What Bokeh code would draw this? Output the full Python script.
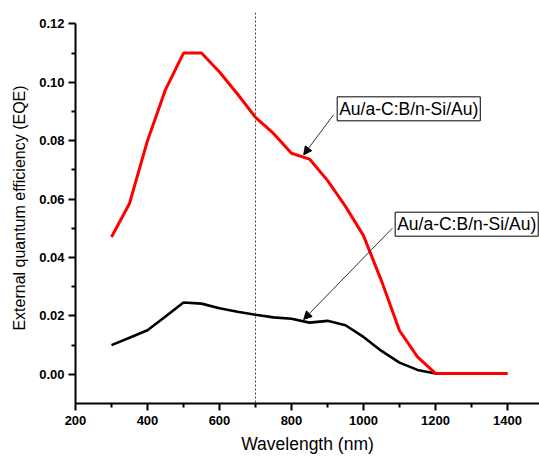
from bokeh.plotting import figure
from bokeh.models import (Span, Label, Arrow, NormalHead, FixedTicker,
                          PrintfTickFormatter, Range1d)
from bokeh.embed import file_html
from bokeh.resources import INLINE

wavelength = [300, 350, 400, 450, 500, 550, 600, 650, 700, 750, 800, 850, 900,
              950, 1000, 1050, 1100, 1150, 1200, 1250, 1300, 1350, 1400]
eqe_red = [0.047, 0.0585, 0.080, 0.0975, 0.110, 0.110, 0.1035, 0.096, 0.088,
           0.0825, 0.0757, 0.0737, 0.0664, 0.0575, 0.0475, 0.032, 0.015, 0.006,
           0.0003, 0.0003, 0.0003, 0.0003, 0.0003]
eqe_black = [0.0100, 0.0125, 0.0151, 0.0198, 0.0246, 0.0242, 0.0226, 0.0214,
             0.0204, 0.0195, 0.0190, 0.0177, 0.0183, 0.0168, 0.0128, 0.0080,
             0.0040, 0.0015, 0.0003, 0.0003, 0.0003, 0.0003, 0.0003]
x_ticks = [200, 400, 600, 800, 1000, 1200, 1400]
x_minor = [300, 500, 700, 900, 1100, 1300, 1500]
y_ticks = [0.00, 0.02, 0.04, 0.06, 0.08, 0.10, 0.12]
y_minor = [0.01, 0.03, 0.05, 0.07, 0.09, 0.11]
label_text = "Au/a-C:B/n-Si/Au)"
marker_x = 700

FONT = "Liberation Sans"

p = figure(width=539, height=457, output_backend="svg", toolbar_location=None,
           x_range=Range1d(200, 1489), y_range=Range1d(-0.01, 0.1239),
           min_border_left=75, min_border_right=0, min_border_top=12,
           min_border_bottom=54)
p.outline_line_color = None
p.xgrid.visible = False
p.ygrid.visible = False
p.background_fill_color = "white"
p.border_fill_color = "white"

p.line(wavelength, eqe_black, line_color="black", line_width=2.6)
p.line(wavelength, eqe_red, line_color="#ff0000", line_width=3)

p.add_layout(Span(location=marker_x, dimension="height", line_color="#444444",
                  line_dash="2 2", line_width=1))

for ax in (p.xaxis[0], p.yaxis[0]):
    ax.axis_line_width = 2
    ax.axis_line_color = "black"
    ax.major_tick_line_width = 2
    ax.minor_tick_line_width = 2
    ax.major_tick_in = 0
    ax.major_tick_out = 7
    ax.minor_tick_in = 0
    ax.minor_tick_out = 4
    ax.major_label_text_font = FONT
    ax.major_label_text_font_style = "bold"
    ax.major_label_text_font_size = "13px"
    ax.major_label_text_color = "black"
    ax.axis_label_text_font = FONT
    ax.axis_label_text_font_style = "normal"
    ax.axis_label_text_font_size = "17.5px"
    ax.axis_label_text_color = "black"

p.xaxis.ticker = FixedTicker(ticks=x_ticks, minor_ticks=x_minor)
p.yaxis.ticker = FixedTicker(ticks=y_ticks, minor_ticks=y_minor)
p.yaxis.formatter = PrintfTickFormatter(format="%.2f")
p.yaxis.bounds = (-0.01, 0.12)
p.xaxis.major_label_standoff = 5
p.yaxis.major_label_standoff = 4
p.xaxis.axis_label = "Wavelength (nm)"
p.yaxis.axis_label = "External quantum efficiency (EQE)"
p.yaxis.axis_label_text_font_size = "16px"
p.xaxis.axis_label_standoff = 6
p.yaxis.axis_label_standoff = 8

for (lx, ly) in [(927, 0.0868), (1088, 0.0473)]:
    p.add_layout(Label(x=lx, y=ly, text=label_text, text_font=FONT,
                       text_font_size="17.5px", text_color="black",
                       text_align="left", text_baseline="bottom",
                       border_line_color="black", border_line_width=1,
                       background_fill_color="white", padding=2))

for (x0, y0, x1, y1) in [(917, 0.0889, 834, 0.0752), (1080, 0.050, 834, 0.0188)]:
    p.add_layout(Arrow(x_start=x0, y_start=y0, x_end=x1, y_end=y1,
                       line_color="#333333", line_width=1,
                       end=NormalHead(size=8, fill_color="black",
                                      line_color="black", line_width=1)))

open("out.html", "w").write(file_html(p, INLINE))
